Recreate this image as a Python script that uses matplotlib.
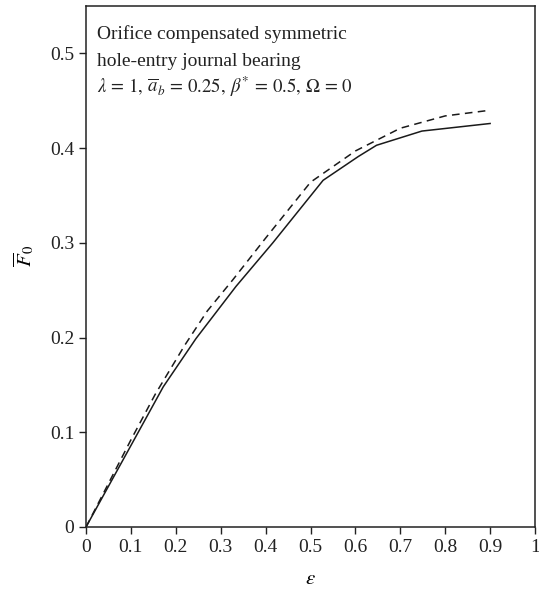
import matplotlib
matplotlib.use("Agg")
import matplotlib.pyplot as plt

plt.rcParams['font.family'] = ['Liberation Serif', 'DejaVu Serif']
plt.rcParams['mathtext.fontset'] = 'stix'

eps_solid = [0, 0.1, 0.172, 0.245, 0.334, 0.416, 0.528, 0.606, 0.647, 0.748, 0.9]
f0_solid = [0, 0.086, 0.148, 0.199, 0.254, 0.300, 0.366, 0.391, 0.403, 0.418, 0.426]

eps_dashed = [0, 0.1, 0.154, 0.22, 0.27, 0.327, 0.4, 0.5, 0.6, 0.7, 0.8, 0.9]
f0_dashed = [0, 0.092, 0.140, 0.192, 0.228, 0.261, 0.305, 0.364, 0.397, 0.421, 0.434, 0.440]

x_ticks = [0, 0.1, 0.2, 0.3, 0.4, 0.5, 0.6, 0.7, 0.8, 0.9, 1]
x_labels = ['0', '0.1', '0.2', '0.3', '0.4', '0.5', '0.6', '0.7', '0.8', '0.9', '1']
y_ticks = [0, 0.1, 0.2, 0.3, 0.4, 0.5]
y_labels = ['0', '0.1', '0.2', '0.3', '0.4', '0.5']

note_lines = [
    'Orifice compensated symmetric',
    'hole-entry journal bearing',
    r'$\lambda\,=\,1,\,\overline{a}_b\,=\,0.25,\,\beta^{*}\,=\,0.5,\,\Omega\,=\,0$',
]

fig = plt.figure(figsize=(5.39, 5.92), dpi=100)
ax = fig.add_axes([0.1596, 0.1098, 0.833, 0.880])

ax.plot(eps_solid, f0_solid, color='#1a1a1a', lw=1.1)
ax.plot(eps_dashed, f0_dashed, color='#1a1a1a', lw=1.1, dashes=(5, 3.5))

ax.set_xlim(0, 1)
ax.set_ylim(0, 0.55)
ax.set_xticks(x_ticks)
ax.set_xticklabels(x_labels)
ax.set_yticks(y_ticks)
ax.set_yticklabels(y_labels)
ax.tick_params(direction='out', length=5, width=1, labelsize=14, colors='#222222')
for s in ax.spines.values():
    s.set_linewidth(1.1)
    s.set_color('#222222')

ax.set_xlabel(r'$\varepsilon$', fontsize=15, labelpad=10)
ax.set_ylabel(r'$\overline{F}_0$', fontsize=15)
ax.yaxis.set_label_coords(-0.11, 0.52)

for i, line in enumerate(note_lines):
    ax.text(0.025, 0.937 - 0.052 * i, line, transform=ax.transAxes,
            ha='left', va='baseline', fontsize=14 if i < 2 else 13.5,
            color='#222222')

fig.savefig('out.png', dpi=100)
